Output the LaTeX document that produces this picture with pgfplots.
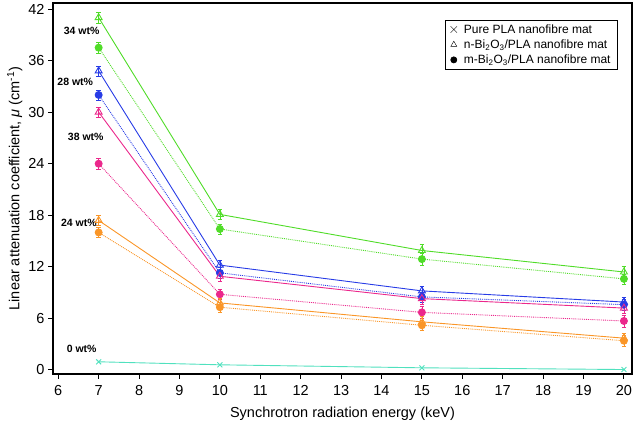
\documentclass[border=0pt]{standalone}
\usepackage{fontspec}
\setmainfont{Liberation Sans}
\usepackage{pgfplots}
\pgfplotsset{compat=1.18}

\definecolor{cgreen}{RGB}{80,220,40}
\definecolor{cblue}{RGB}{40,60,230}
\definecolor{cpink}{RGB}{235,40,140}
\definecolor{corange}{RGB}{250,150,40}
\definecolor{ccyan}{RGB}{80,225,190}

\begin{document}
\begin{tikzpicture}
\begin{axis}[
    scale only axis,
    width=579pt, height=371pt,
    xmin=5.87, xmax=20.2,
    ymin=-0.47, ymax=42.7,
    xtick={6,...,20},
    ytick={0,6,...,42},
    tick align=outside,
    xtick pos=bottom, ytick pos=left,
    major tick length=5pt,
    axis line style={line width=1.2pt},
    tick style={line width=1pt, black},
    /pgf/number format/assume math mode=true,
    tick label style={font=\fontsize{14.5}{16}\selectfont},
    xticklabel style={yshift=-3pt},
    label style={font=\fontsize{14.5}{17}\selectfont},
    xlabel={Synchrotron radiation energy (keV)},
    ylabel={Linear attenuation coefficient, \textit{μ} (cm\textsuperscript{-1})},
    xlabel style={yshift=-4pt},
    ylabel style={yshift=-1pt},
    legend style={at={(1,1)}, anchor=north east, xshift=-14pt, yshift=-17pt,
        font=\fontsize{12}{14}\selectfont, draw=black, line width=0.8pt,
        row sep=1pt, column sep=5pt, inner xsep=5pt, inner ysep=2pt},
    legend cell align=left,
    error bars/y dir=both, error bars/y explicit,
    error bars/error mark options={rotate=90, mark size=2.2pt, solid},
    error bars/error bar style={solid, line width=0.6pt},
]
\addlegendimage{only marks, mark=x, mark size=4.5pt, black, thin}
\addlegendentry{Pure PLA nanofibre mat}
\addlegendimage{only marks, mark=triangle, mark size=3.5pt, black, thin}
\addlegendentry{n-Bi\textsubscript{2}O\textsubscript{3}/PLA nanofibre mat}
\addlegendimage{only marks, mark=*, mark size=3pt, black}
\addlegendentry{m-Bi\textsubscript{2}O\textsubscript{3}/PLA nanofibre mat}

% 34 wt%
\addplot[cgreen, line width=0.9pt, mark=triangle, mark size=4pt, forget plot]
  coordinates {(7,41.0) +- (0,0.6) (10,18.1) +- (0,0.6) (15,13.9) +- (0,0.7) (20,11.4) +- (0,0.7)};
\addplot[cgreen, line width=0.9pt, densely dotted, mark=*, mark size=3.5pt, mark options={solid}, forget plot]
  coordinates {(7,37.5) +- (0,0.6) (10,16.4) +- (0,0.6) (15,12.9) +- (0,0.7) (20,10.6) +- (0,0.6)};
% 28 wt%
\addplot[cblue, line width=0.9pt, mark=triangle, mark size=4pt, forget plot]
  coordinates {(7,34.8) +- (0,0.6) (10,12.2) +- (0,0.6) (15,9.2) +- (0,0.6) (20,7.9) +- (0,0.6)};
\addplot[cblue, line width=0.9pt, densely dotted, mark=*, mark size=3.5pt, mark options={solid}, forget plot]
  coordinates {(7,32.0) +- (0,0.6) (10,11.3) +- (0,0.6) (15,8.5) +- (0,0.6) (20,7.6) +- (0,0.6)};
% 38 wt%
\addplot[cpink, line width=0.9pt, mark=triangle, mark size=4pt, forget plot]
  coordinates {(7,30.0) +- (0,0.6) (10,10.9) +- (0,0.6) (15,8.3) +- (0,0.6) (20,7.2) +- (0,0.6)};
\addplot[cpink, line width=0.9pt, densely dotted, mark=*, mark size=3.5pt, mark options={solid}, forget plot]
  coordinates {(7,24.0) +- (0,0.6) (10,8.8) +- (0,0.6) (15,6.7) +- (0,0.7) (20,5.7) +- (0,0.7)};
% 24 wt%
\addplot[corange, line width=0.9pt, mark=triangle, mark size=4pt, forget plot]
  coordinates {(7,17.4) +- (0,0.6) (10,7.8) +- (0,0.6) (15,5.6) +- (0,0.6) (20,3.7) +- (0,0.6)};
\addplot[corange, line width=0.9pt, densely dotted, mark=*, mark size=3.5pt, mark options={solid}, forget plot]
  coordinates {(7,16.0) +- (0,0.6) (10,7.3) +- (0,0.6) (15,5.2) +- (0,0.6) (20,3.4) +- (0,0.6)};
% 0 wt%
\addplot[ccyan, line width=0.9pt, mark=x, mark size=3.5pt, forget plot]
  coordinates {(7,0.95) (10,0.6) (15,0.25) (20,0.05)};

\begin{scope}[font=\fontsize{10.5}{12}\selectfont\bfseries]
\node at (axis cs:6.58,39.4) {34 wt\%};
\node at (axis cs:6.42,33.5) {28 wt\%};
\node at (axis cs:6.68,27.1) {38 wt\%};
\node at (axis cs:6.51,17.1) {24 wt\%};
\node at (axis cs:6.58,2.4) {0 wt\%};
\end{scope}
\end{axis}
\pgfresetboundingbox
\path (current axis.south west) ++(-53pt,-53pt) rectangle ([xshift=8pt,yshift=3pt]current axis.north east);
\end{tikzpicture}
\end{document}
